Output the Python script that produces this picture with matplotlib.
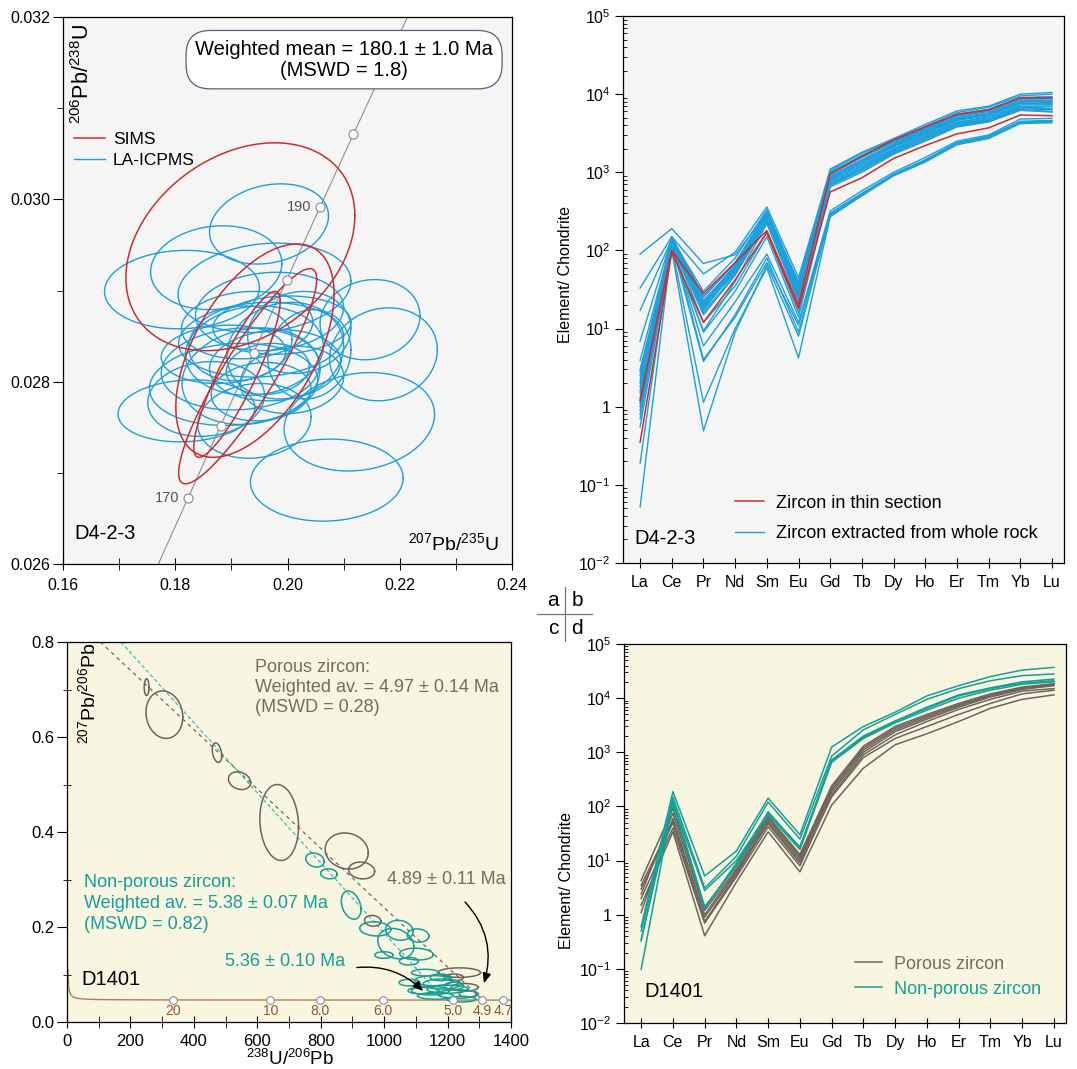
import numpy as np
import matplotlib
matplotlib.use("Agg")
import matplotlib.pyplot as plt
from matplotlib.lines import Line2D
from matplotlib.ticker import MultipleLocator, LogLocator, NullFormatter, FormatStrFormatter

plt.rcParams["font.family"] = ["Liberation Sans", "DejaVu Sans"]
plt.rcParams["mathtext.fontset"] = "custom"
plt.rcParams["mathtext.rm"] = "Liberation Sans"
plt.rcParams["mathtext.it"] = "Liberation Sans:italic"
plt.rcParams["mathtext.bf"] = "Liberation Sans:bold"
plt.rcParams["axes.linewidth"] = 0.9

W, H = 1077, 1069

RED = "#d12b2b"
BLUE = "#1d9fdc"
BROWN = "#6e645c"
BROWN_TXT = "#776b62"
TEAL = "#14a096"
GREY_BG = "#f5f5f5"
CREAM_BG = "#f8f5e1"

# decay constants (1/yr) for the concordia reference curves
L238 = 1.55125e-10
L235 = 9.8485e-10

# ---------------- a: SIMS / LA-ICPMS ellipses (207/235 vs 206/238) ----------------
sims_x = [0.1916, 0.1942, 0.1929, 0.1910]
sims_y = [0.02948, 0.02834, 0.02806, 0.02808]
sims_sx = [0.0204, 0.0141, 0.0123, 0.0077]
sims_sy = [0.00114, 0.00117, 0.00118, 0.00091]
sims_rho = [0.30, 0.53, 0.90, 0.88]

la_x = [0.1967, 0.1812, 0.1873, 0.2147, 0.2171, 0.2128, 0.2070, 0.1820, 0.1941, 0.1959,
        0.1968, 0.1941, 0.1916, 0.1978, 0.1953, 0.1904, 0.1996, 0.1928, 0.2008, 0.1953,
        0.2021, 0.1886, 0.1965, 0.1935, 0.2039, 0.1855, 0.1990, 0.1916]
la_y = [0.02973, 0.02901, 0.02925, 0.02868, 0.02830, 0.02756, 0.02692, 0.02768, 0.02757, 0.02903,
        0.02877, 0.02834, 0.02814, 0.02818, 0.02846, 0.02797, 0.02834, 0.02862, 0.02802, 0.02789,
        0.02854, 0.02830, 0.02814, 0.02806, 0.02830, 0.02781, 0.02862, 0.02842]
la_sx = [0.0106, 0.0138, 0.0117, 0.0089, 0.0096, 0.0134, 0.0136, 0.0122, 0.0101, 0.0154,
         0.0132, 0.0123, 0.0141, 0.0117, 0.0147, 0.0150, 0.0104, 0.0117, 0.0092, 0.0089,
         0.0092, 0.0111, 0.0074, 0.0123, 0.0074, 0.0104, 0.0123, 0.0092]
la_sy = [0.00044, 0.00043, 0.00046, 0.00044, 0.00051, 0.00054, 0.00045, 0.00034, 0.00041, 0.00049,
         0.00043, 0.00049, 0.00045, 0.00039, 0.00041, 0.00045, 0.00053, 0.00037, 0.00037, 0.00032,
         0.00045, 0.00032, 0.00028, 0.00053, 0.00049, 0.00041, 0.00032, 0.00041]
la_rho = [0.2, 0.05, 0.1, 0.1, 0.1, 0.15, 0.05, 0.1, 0.1, 0.15,
          0.1, 0.1, 0.1, 0.1, 0.1, 0.1, 0.1, 0.1, 0.1, 0.1,
          0.1, 0.1, 0.1, 0.15, 0.1, 0.1, 0.1, 0.1]

conc_ages_a = [170, 175, 180, 185, 190, 195]      # Ma, marker circles
conc_labels_a = {170: "170", 190: "190"}

# ---------------- b / d: chondrite-normalised REE ----------------
ree = ["La", "Ce", "Pr", "Nd", "Sm", "Eu", "Gd", "Tb", "Dy", "Ho", "Er", "Tm", "Yb", "Lu"]
log_ticks = [1e-2, 1e-1, 1, 1e1, 1e2, 1e3, 1e4, 1e5]
log_tick_labels = ["10$^{-2}$", "10$^{-1}$", "1", "10$^{1}$", "10$^{2}$", "10$^{3}$", "10$^{4}$", "10$^{5}$"]

ree_thin = [
    [0.35, 95, 12, 42, 170, 18, 560, 850, 1500, 2200, 3100, 3700, 5400, 5300],
    [1.2, 100, 28, 70, 180, 20, 950, 1600, 2600, 3800, 5500, 6300, 9000, 8900],
]
ree_whole = [
    [90, 190, 68, 88, 300, 40, 1100, 1800, 2700, 4100, 6100, 7000, 10000, 10500],
    [33, 150, 50, 95, 360, 45, 1050, 1750, 2600, 3900, 5800, 6800, 9500, 10000],
    [17, 140, 30, 80, 330, 38, 1000, 1650, 2500, 3700, 5500, 6400, 9000, 9200],
    [6.9, 145, 25, 70, 310, 35, 950, 1550, 2400, 3500, 5200, 6000, 8600, 8700],
    [3.9, 135, 22, 65, 290, 33, 900, 1450, 2300, 3400, 5000, 5800, 8200, 8300],
    [2.8, 130, 20, 60, 280, 30, 850, 1400, 2200, 3200, 4800, 5500, 8000, 8000],
    [2.2, 150, 18, 55, 260, 28, 800, 1300, 2100, 3100, 4600, 5300, 7600, 7600],
    [1.8, 140, 17, 58, 270, 27, 780, 1250, 2000, 3000, 4400, 5100, 7300, 7300],
    [1.5, 125, 16, 50, 240, 25, 750, 1200, 1950, 2900, 4300, 5000, 7000, 7000],
    [1.3, 135, 19, 52, 250, 26, 720, 1150, 1900, 2800, 4200, 4800, 6800, 6600],
    [1.1, 145, 21, 62, 285, 30, 880, 1400, 2250, 3300, 4900, 5600, 8100, 7800],
    [0.9, 120, 15, 48, 230, 24, 700, 1100, 1800, 2700, 4000, 4600, 6500, 6300],
    [0.7, 130, 20, 56, 265, 29, 820, 1350, 2150, 3150, 4700, 5400, 7800, 7400],
    [2.5, 140, 23, 62, 300, 34, 960, 1550, 2450, 3600, 5300, 6100, 8800, 8800],
    [1.6, 150, 26, 68, 310, 36, 1000, 1600, 2550, 3700, 5500, 6300, 9000, 9300],
    [0.55, 110, 9.3, 40, 220, 22, 680, 1050, 1750, 2600, 3900, 4500, 6300, 6000],
    [1.2, 115, 9, 30, 150, 14, 650, 1000, 1700, 2500, 3800, 4400, 6200, 5900],
    [3.0, 125, 12, 35, 170, 16, 700, 1100, 1850, 2700, 4100, 4700, 6700, 6500],
    [0.19, 130, 6, 22, 90, 12, 320, 580, 1000, 1550, 2500, 3000, 4800, 4900],
    [0.052, 120, 3.8, 15, 80, 9, 300, 540, 950, 1450, 2400, 2900, 4500, 4600],
    [1.0, 140, 4, 14, 70, 11, 290, 520, 920, 1400, 2300, 2800, 4300, 4400],
    [2.0, 110, 1.14, 10, 60, 4.2, 270, 500, 900, 1350, 2250, 2700, 4200, 4300],
    [0.8, 100, 0.49, 9, 65, 8, 280, 510, 930, 1420, 2350, 2850, 4400, 4500],
]

ree_porous = [
    [4.3, 92, 1.37, 8, 65, 13, 240, 1300, 3000, 5000, 8000, 12000, 16000, 18500],
    [2.4, 75, 1.2, 7, 60, 12, 220, 1200, 2800, 4700, 7600, 11500, 15500, 18000],
    [1.1, 60, 0.9, 6, 55, 11, 200, 1100, 2600, 4400, 7200, 11000, 15000, 17500],
    [3.0, 50, 0.75, 5.5, 50, 10, 180, 1000, 2400, 4100, 6800, 10500, 14500, 17000],
    [2.0, 40, 0.7, 5, 42, 8, 160, 900, 2100, 3700, 6200, 9500, 13500, 15000],
    [1.5, 34, 0.41, 4, 34, 6.2, 106, 510, 1380, 2200, 3700, 6500, 9500, 11500],
    [3.5, 55, 1.0, 6.5, 48, 9, 150, 800, 1800, 3000, 5000, 8000, 12000, 14000],
]
ree_nonporous = [
    [0.6, 187, 5.2, 15, 142, 30, 1250, 3000, 5500, 11000, 17000, 25000, 33000, 37000],
    [0.33, 150, 3.1, 12, 120, 25, 850, 2600, 5000, 9500, 15000, 21000, 26000, 28000],
    [0.098, 120, 2.8, 10, 75, 18, 700, 1900, 3700, 6500, 11000, 15000, 19000, 21000],
    [0.35, 110, 1.3, 9, 70, 16, 650, 1800, 3500, 6000, 10000, 14000, 18000, 20000],
    [0.5, 130, 1.4, 8, 80, 17, 720, 2000, 3800, 6800, 11500, 15500, 20000, 22500],
]

# ---------------- c: Tera-Wasserburg (238U/206Pb vs 207Pb/206Pb) ----------------
por_x = [251, 307, 473, 544, 669, 882, 929, 964, 1237, 1220, 1254, 1264]
por_y = [0.705, 0.647, 0.567, 0.508, 0.420, 0.360, 0.319, 0.213, 0.104, 0.094, 0.073, 0.059]
por_sx = [7.6, 58, 15, 35, 61, 68, 41, 26, 67, 30, 43, 27]
por_sy = [0.0177, 0.050, 0.0205, 0.0187, 0.080, 0.038, 0.0177, 0.0113, 0.010, 0.007, 0.008, 0.007]
por_rho = [0.0, -0.1, -0.3, -0.2, -0.1, -0.1, -0.1, -0.1, 0.0, 0.0, 0.0, 0.0]

np_x = [782, 826, 896, 972, 1048, 1037, 1107, 1102, 999, 1078, 1129,
        1156, 1183, 1200, 1146, 1232, 1124, 1162, 1220, 1178, 1243, 1080]
np_y = [0.341, 0.312, 0.246, 0.196, 0.193, 0.165, 0.182, 0.143, 0.141, 0.128, 0.104,
        0.087, 0.080, 0.069, 0.066, 0.059, 0.066, 0.055, 0.076, 0.094, 0.048, 0.083]
np_sx = [29, 26, 31, 49, 43, 57, 34, 53, 29, 30, 43,
         60, 60, 65, 60, 65, 49, 57, 30, 33, 46, 33]
np_sy = [0.0148, 0.0106, 0.0297, 0.0148, 0.021, 0.032, 0.014, 0.0124, 0.007, 0.008, 0.007,
         0.0106, 0.0106, 0.0085, 0.009, 0.009, 0.007, 0.007, 0.008, 0.007, 0.006, 0.007]
np_rho = [-0.2, -0.1, -0.3, -0.1, -0.1, -0.2, -0.1, -0.1, 0.0, 0.0, 0.0,
          0.0, 0.0, 0.0, 0.0, 0.0, 0.0, 0.0, 0.0, 0.0, 0.0, 0.0]

tw_mark_x = [334, 641, 797, 997, 1218, 1309, 1375]
tw_mark_lab = ["20", "10", "8.0", "6.0", "5.0", "4.9", "4.7"]

por_line_x = [105, 1310]
por_line_y = [0.80, 0.047]
np_line_x = [170, 1190]
np_line_y = [0.80, 0.047]


fig = plt.figure(figsize=(W / 100, H / 100), dpi=100)
fig.patch.set_facecolor("white")


def px_axes(x0, y0, x1, y1):
    return fig.add_axes([x0 / W, 1 - y1 / H, (x1 - x0) / W, (y1 - y0) / H])


def err_ellipse(ax, cx, cy, sx, sy, rho, **kw):
    t = np.linspace(0, 2 * np.pi, 160)
    ex = cx + sx * np.cos(t)
    ey = cy + sy * (rho * np.cos(t) + np.sqrt(1 - rho ** 2) * np.sin(t))
    return ax.plot(ex, ey, **kw)[0]


# =========================== a ===========================
ax = px_axes(63, 17, 512, 564)
ax.set_facecolor(GREY_BG)
ax.set_xlim(0.16, 0.24)
ax.set_ylim(0.026, 0.032)
ax.xaxis.set_major_locator(MultipleLocator(0.02))
ax.xaxis.set_minor_locator(MultipleLocator(0.01))
ax.yaxis.set_major_locator(MultipleLocator(0.002))
ax.yaxis.set_minor_locator(MultipleLocator(0.001))
ax.xaxis.set_major_formatter(FormatStrFormatter("%.2f"))
ax.yaxis.set_major_formatter(FormatStrFormatter("%.3f"))
ax.tick_params(axis="x", which="both", direction="inout", length=8, labelsize=11.5, pad=6)
ax.tick_params(axis="y", which="major", direction="out", length=7, labelsize=11.5, pad=2)
ax.tick_params(axis="y", which="minor", direction="out", length=4)

tc = np.linspace(160, 210, 300) * 1e6
ax.plot(np.expm1(L235 * tc), np.expm1(L238 * tc), color="#8f8f8f", lw=0.8, zorder=1)

for i in range(len(la_x)):
    h = err_ellipse(ax, la_x[i], la_y[i], la_sx[i], la_sy[i], la_rho[i], color=BLUE, lw=1.0, zorder=2)
    if i == 0:
        h_la = h
for i in range(len(sims_x)):
    h = err_ellipse(ax, sims_x[i], sims_y[i], sims_sx[i], sims_sy[i], sims_rho[i], color=RED, lw=1.1, zorder=3)
    if i == 0:
        h_sims = h

ta = np.array(conc_ages_a) * 1e6
ax.plot(np.expm1(L235 * ta), np.expm1(L238 * ta), "o", ms=6.5, mfc="white", mec="#8a8a8a",
        mew=0.8, zorder=5)
for age, lab in conc_labels_a.items():
    ax.annotate(lab, (np.expm1(L235 * age * 1e6), np.expm1(L238 * age * 1e6)), xytext=(-6, 0),
                textcoords="offset points", ha="right", va="center", fontsize=10.5, color="#555555")

ax.text(0.626, 0.922, "Weighted mean = 180.1 \u00b1 1.0 Ma\n(MSWD = 1.8)", transform=ax.transAxes,
        ha="center", va="center", fontsize=14.5, linespacing=1.15,
        bbox=dict(boxstyle="round,pad=0.45,rounding_size=1.2", fc="white", ec="#5c5c7c", lw=0.9))
leg = ax.legend([h_sims, h_la], ["SIMS", "LA-ICPMS"], loc="upper left", bbox_to_anchor=(0.0245, 0.79),
                frameon=False, fontsize=12.5, handlelength=1.8, handletextpad=0.45,
                borderpad=0, borderaxespad=0, labelspacing=0.35)
ax.text(0.0245, 0.055, "D4-2-3", transform=ax.transAxes, ha="left", va="center", fontsize=14.5)
ax.text(0.971, 0.038, "$^{207}$Pb/$^{235}$U", transform=ax.transAxes, ha="right", va="center", fontsize=14)
ax.text(0.0445, 0.895, "$^{206}$Pb/$^{238}$U", transform=ax.transAxes, ha="center", va="center",
        rotation=90, fontsize=15.5)


# ======================= b and d (REE) =======================
def ree_axes(box, bg):
    a = px_axes(*box)
    a.set_facecolor(bg)
    a.set_yscale("log")
    a.set_ylim(1e-2, 1e5)
    a.set_xlim(-0.54, 13.38)
    a.set_xticks(np.arange(len(ree)), ree)
    a.set_yticks(log_ticks, log_tick_labels)
    a.yaxis.set_minor_locator(LogLocator(base=10, subs=np.arange(2, 10), numticks=20))
    a.yaxis.set_minor_formatter(NullFormatter())
    a.tick_params(axis="x", which="major", direction="inout", length=7, labelsize=11.5, pad=5)
    a.tick_params(axis="x", which="minor", bottom=False)
    a.tick_params(axis="y", which="major", direction="out", length=6, labelsize=11.5, pad=3)
    a.tick_params(axis="y", which="minor", direction="in", length=3, width=0.6)
    return a


xr = np.arange(len(ree))

ax = ree_axes((623, 16, 1064, 563), GREY_BG)
for row in ree_whole:
    hb, = ax.plot(xr, row, color=BLUE, lw=1.0)
for row in ree_thin:
    hr, = ax.plot(xr, row, color=RED, lw=1.1)
ax.legend([hr, hb], ["Zircon in thin section", "Zircon extracted from whole rock"], loc="upper left",
          bbox_to_anchor=(0.254, 0.125), frameon=False, fontsize=13, handlelength=1.6,
          handletextpad=0.65, borderpad=0, borderaxespad=0, labelspacing=0.75)
ax.text(0.025, 0.044, "D4-2-3", transform=ax.transAxes, ha="left", va="center", fontsize=14.5)
ax.text(-0.1315, 0.527, "Element/ Chondrite", transform=ax.transAxes, ha="center", va="center",
        rotation=90, fontsize=11.5)

ax = ree_axes((624, 644, 1066, 1023), CREAM_BG)
for row in ree_porous:
    hp, = ax.plot(xr, row, color=BROWN, lw=1.1)
for row in ree_nonporous:
    hn, = ax.plot(xr, row, color=TEAL, lw=1.1)
leg = ax.legend([hp, hn], ["Porous zircon", "Non-porous zircon"], loc="upper left",
                bbox_to_anchor=(0.523, 0.178), frameon=False, fontsize=13, handlelength=1.5,
                handletextpad=0.65, borderpad=0, borderaxespad=0, labelspacing=0.45)
for txt, col in zip(leg.get_texts(), [BROWN_TXT, TEAL]):
    txt.set_color(col)
ax.text(0.045, 0.084, "D1401", transform=ax.transAxes, ha="left", va="center", fontsize=14.5)
ax.text(-0.129, 0.375, "Element/ Chondrite", transform=ax.transAxes, ha="center", va="center",
        rotation=90, fontsize=11.5)


# =========================== c ===========================
ax = px_axes(67, 642, 511, 1022)
ax.set_facecolor(CREAM_BG)
ax.set_xlim(0, 1400)
ax.set_ylim(0, 0.8)
ax.xaxis.set_major_locator(MultipleLocator(200))
ax.xaxis.set_minor_locator(MultipleLocator(100))
ax.yaxis.set_major_locator(MultipleLocator(0.2))
ax.yaxis.set_minor_locator(MultipleLocator(0.1))
ax.yaxis.set_major_formatter(FormatStrFormatter("%.1f"))
ax.tick_params(axis="x", which="both", direction="inout", length=8, labelsize=12, pad=5)
ax.tick_params(axis="y", which="major", direction="out", length=7, labelsize=12, pad=2)
ax.tick_params(axis="y", which="minor", direction="inout", length=6)

tt = np.geomspace(4.4e6, 1.8e9, 500)
cx_tw = 1 / np.expm1(L238 * tt)
cy_tw = np.expm1(L235 * tt) / np.expm1(L238 * tt) / 137.88
ax.plot(cx_tw, cy_tw, color="#a9825a", lw=1.0, zorder=1)
order = np.argsort(cx_tw)
mk_y = np.interp(tw_mark_x, cx_tw[order], cy_tw[order])
ax.plot(tw_mark_x, mk_y, "o", ms=5.5, mfc="white", mec="#8c8ca6", mew=0.8, zorder=6)
for mx, my, lab in zip(tw_mark_x, mk_y, tw_mark_lab):
    ax.annotate(lab, (mx, my), xytext=(0, -8), textcoords="offset points", ha="center", va="center",
                fontsize=10, color="#8c5a2b")

ax.plot(por_line_x, por_line_y, color="#6a6a6a", lw=0.9, ls=(0, (3, 3)), zorder=2)
ax.plot(np_line_x, np_line_y, color="#3dbdbd", lw=0.9, ls=(0, (3, 2)), zorder=2)

for i in range(len(por_x)):
    err_ellipse(ax, por_x[i], por_y[i], por_sx[i], por_sy[i], por_rho[i], color=BROWN, lw=1.1, zorder=3)
for i in range(len(np_x)):
    err_ellipse(ax, np_x[i], np_y[i], np_sx[i], np_sy[i], np_rho[i], color=TEAL, lw=1.1, zorder=4)

ax.text(0.423, 0.955, "Porous zircon:\nWeighted av. = 4.97 \u00b1 0.14 Ma\n(MSWD = 0.28)",
        transform=ax.transAxes, ha="left", va="top", fontsize=13, color=BROWN_TXT, linespacing=1.22)
ax.text(0.038, 0.389, "Non-porous zircon:\nWeighted av. = 5.38 \u00b1 0.07 Ma\n(MSWD = 0.82)",
        transform=ax.transAxes, ha="left", va="top", fontsize=13, color=TEAL, linespacing=1.3)
ax.text(0.989, 0.376, "4.89 \u00b1 0.11 Ma", transform=ax.transAxes, ha="right", va="center",
        fontsize=13, color=BROWN_TXT)
ax.text(0.356, 0.158, "5.36 \u00b1 0.10 Ma", transform=ax.transAxes, ha="left", va="center",
        fontsize=13, color=TEAL)
ax.text(0.0315, 0.113, "D1401", transform=ax.transAxes, ha="left", va="center", fontsize=14.5)
ax.annotate("", xy=(1312, 0.076), xytext=(1249, 0.257),
            arrowprops=dict(arrowstyle="-|>,head_width=0.25,head_length=0.6", color="black", lw=1.0,
                            connectionstyle="arc3,rad=-0.3"), zorder=7)
ax.annotate("", xy=(1129, 0.061), xytext=(905, 0.114),
            arrowprops=dict(arrowstyle="-|>,head_width=0.25,head_length=0.6", color="black", lw=1.0,
                            connectionstyle="arc3,rad=-0.25"), zorder=7)
ax.text(0.047, 0.866, "$^{207}$Pb/$^{206}$Pb", transform=ax.transAxes, ha="center", va="center",
        rotation=90, fontsize=14)
ax.text(0.502, -0.097, "$^{238}$U/$^{206}$Pb", transform=ax.transAxes, ha="center", va="center", fontsize=13.5)

# ---------------- panel key (a|b / c|d) ----------------
fig.add_artist(Line2D([565 / W, 565 / W], [1 - 587 / H, 1 - 641 / H], color="#777777", lw=0.9))
fig.add_artist(Line2D([537 / W, 592 / W], [1 - 614 / H, 1 - 614 / H], color="#777777", lw=0.9))
for lab, px, py in [("a", 553, 600), ("b", 577, 600), ("c", 553, 629), ("d", 577, 629)]:
    fig.text(px / W, 1 - py / H, lab, ha="center", va="center", fontsize=15)

fig.savefig("out.png", dpi=100)
